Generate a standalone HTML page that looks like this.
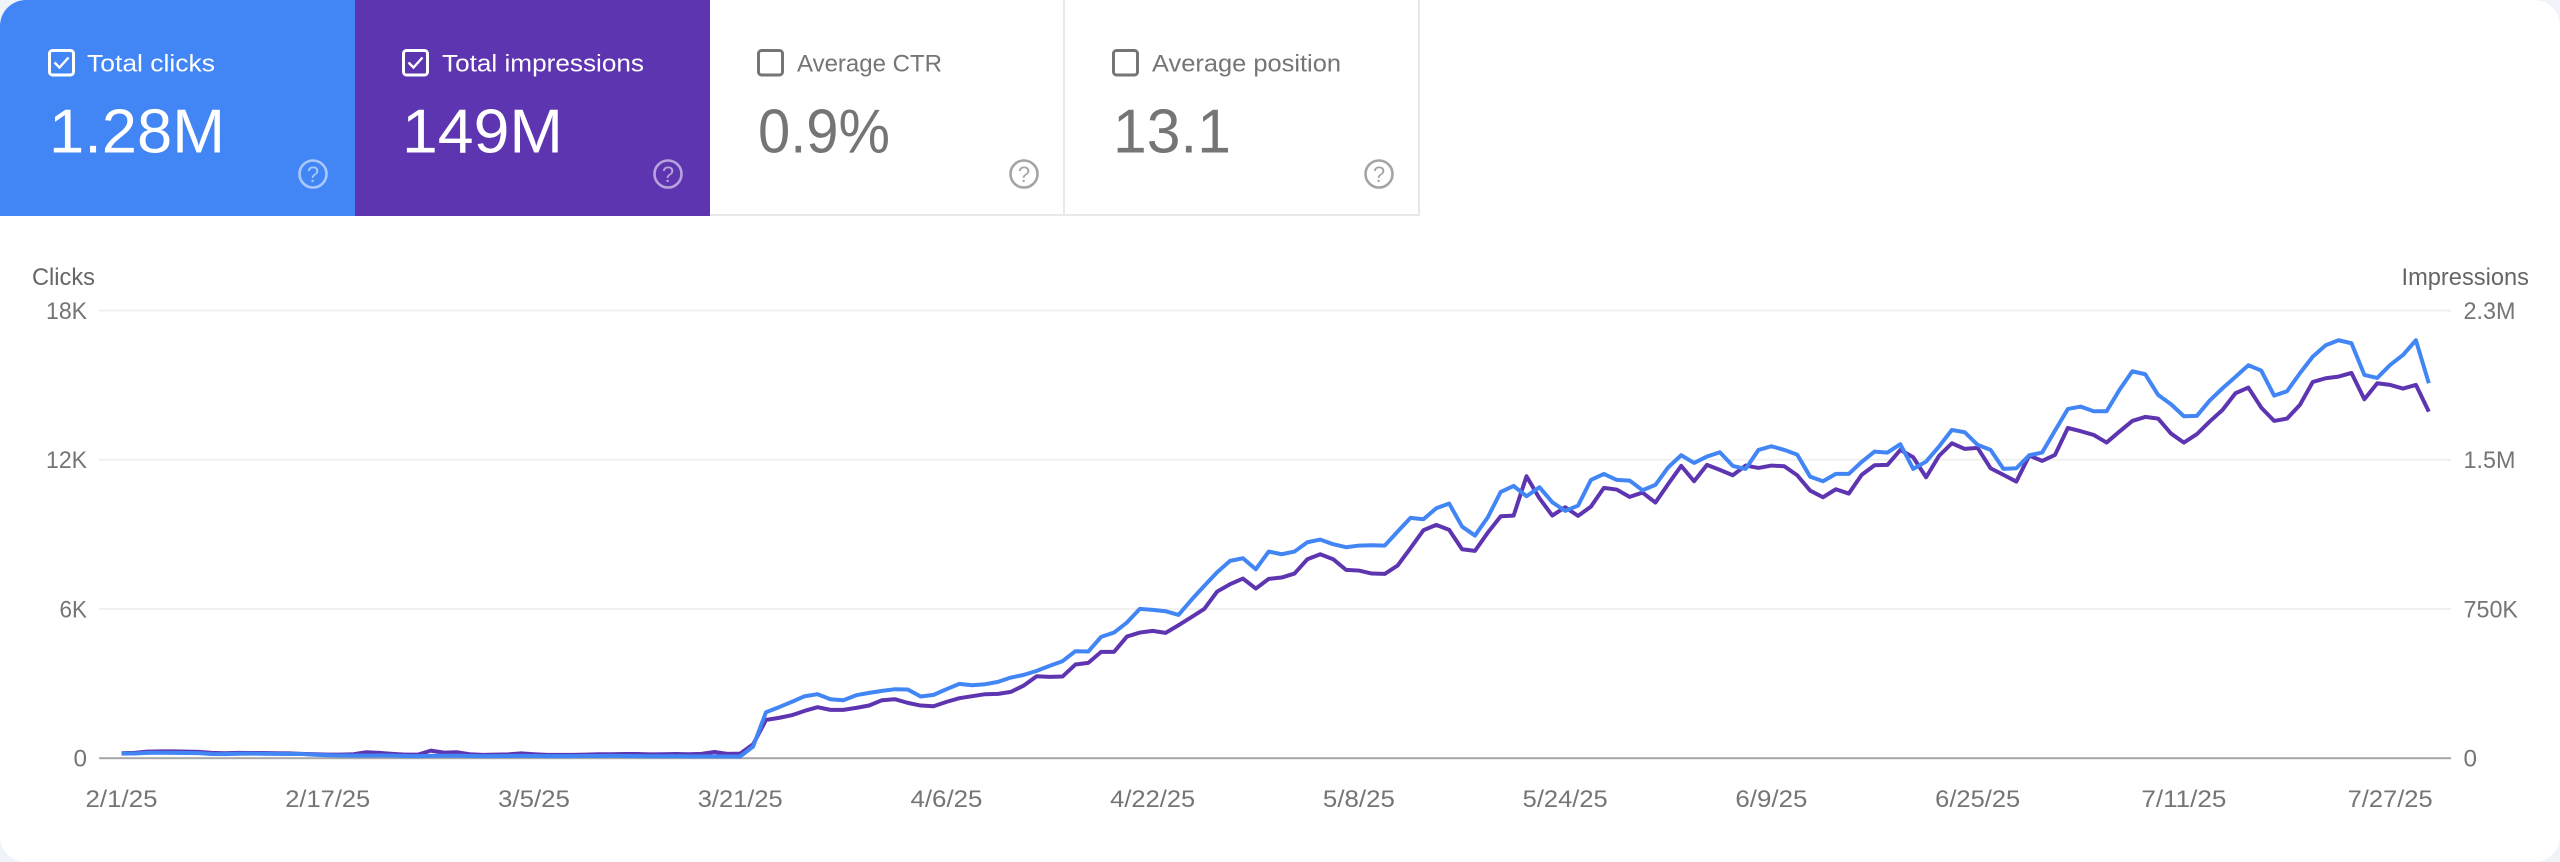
<!DOCTYPE html>
<html lang="en">
<head>
<meta charset="utf-8">
<title>Search performance chart</title>
<style>
html,body{margin:0;padding:0;background:#f0f4f9;width:2560px;height:862px;overflow:hidden}
svg{display:block}
text{font-family:"Liberation Sans",sans-serif}
.lbl{font-size:24.5px}
.big{font-size:62px;paint-order:stroke}
.tick{font-size:24.5px;fill:#757575}
.title{font-size:24.5px;fill:#666666}
.help{font-size:22px;text-anchor:middle}
</style>
</head>
<body>
<svg id="root" width="2560" height="862" viewBox="0 0 2560 862" xmlns="http://www.w3.org/2000/svg">
  <defs><clipPath id="cardClip"><rect x="0" y="0" width="2560" height="862" rx="26" ry="26"/></clipPath></defs>
  <g clip-path="url(#cardClip)">
    <rect x="0" y="0" width="2560" height="862" fill="#ffffff"/>

    <g>
      <rect x="0" y="0" width="355" height="216" fill="#4285f4"/>
      <rect x="49.5" y="50.5" width="24" height="24.500" rx="3" fill="none" stroke="#ffffff" stroke-width="3"/>
      <path d="M54.500 62.500l5 5 9-10" fill="none" stroke="#ffffff" stroke-width="2.400"/>
      <text class="lbl" x="87" y="71.500" fill="#ffffff" textLength="128" lengthAdjust="spacingAndGlyphs">Total clicks</text>
      <text class="big" x="49" y="152.500" fill="#ffffff" stroke="#4285f4" stroke-width="1" textLength="176" lengthAdjust="spacingAndGlyphs">1.28M</text>
      <g opacity="0.55">
        <circle cx="313" cy="174" r="13.500" fill="none" stroke="#ffffff" stroke-width="2.600"/>
        <text class="help" x="313" y="182" fill="#ffffff">?</text>
      </g>
    </g>

    <g>
      <rect x="355" y="0" width="355" height="216" fill="#5e35b1"/>
      <rect x="403.500" y="50.500" width="24" height="24.500" rx="3" fill="none" stroke="#ffffff" stroke-width="3"/>
      <path d="M408.500 62.500l5 5 9-10" fill="none" stroke="#ffffff" stroke-width="2.400"/>
      <text class="lbl" x="442" y="71.500" fill="#ffffff" textLength="202" lengthAdjust="spacingAndGlyphs">Total impressions</text>
      <text class="big" x="402" y="152.500" fill="#ffffff" stroke="#5e35b1" stroke-width="1" textLength="161" lengthAdjust="spacingAndGlyphs">149M</text>
      <g opacity="0.55">
        <circle cx="668" cy="174" r="13.500" fill="none" stroke="#ffffff" stroke-width="2.600"/>
        <text class="help" x="668" y="182" fill="#ffffff">?</text>
      </g>
    </g>

    <g>
      <rect x="758.500" y="50.500" width="24" height="24.500" rx="3" fill="none" stroke="#757575" stroke-width="3"/>
      <text class="lbl" x="797" y="71.500" fill="#757575" textLength="145" lengthAdjust="spacingAndGlyphs">Average CTR</text>
      <text class="big" x="758" y="152.500" fill="#757575" stroke="#ffffff" stroke-width="1" textLength="132" lengthAdjust="spacingAndGlyphs">0.9%</text>
      <g opacity="0.65">
        <circle cx="1024" cy="174" r="13.500" fill="none" stroke="#757575" stroke-width="2.600"/>
        <text class="help" x="1024" y="182" fill="#757575">?</text>
      </g>
      <rect x="1063" y="0" width="2" height="216" fill="#e8e8e8"/>
    </g>

    <g>
      <rect x="1113.500" y="50.500" width="24" height="24.500" rx="3" fill="none" stroke="#757575" stroke-width="3"/>
      <text class="lbl" x="1152" y="71.500" fill="#757575" textLength="189" lengthAdjust="spacingAndGlyphs">Average position</text>
      <text class="big" x="1113" y="152.500" fill="#757575" stroke="#ffffff" stroke-width="1" textLength="118" lengthAdjust="spacingAndGlyphs">13.1</text>
      <g opacity="0.65">
        <circle cx="1379" cy="174" r="13.500" fill="none" stroke="#757575" stroke-width="2.600"/>
        <text class="help" x="1379" y="182" fill="#757575">?</text>
      </g>
      <rect x="1418" y="0" width="2" height="216" fill="#e8e8e8"/>
    </g>
    <rect x="710" y="214" width="710" height="2" fill="#e8e8e8"/>

    <text class="title" x="32" y="285" textLength="63" lengthAdjust="spacingAndGlyphs">Clicks</text>
    <text class="title" x="2401.500" y="285" textLength="127.500" lengthAdjust="spacingAndGlyphs">Impressions</text>
    <g id="chart"></g>
  </g>
</svg>
<script>
const clicks = [
185,190,215,220,215,210,205,170,165,180,
185,180,175,170,170,140,120,110,105,105,
110,105,90,85,95,100,105,90,85,85,
90,95,90,85,85,85,90,90,95,90,
85,80,80,80,75,75,75,70,70,470,
1849,2050,2265,2492,2573,2372,2332,2533,2626,2707,
2774,2760,2479,2546,2774,2988,2935,2975,3069,3243,
3350,3511,3712,3899,4301,4288,4878,5052,5454,6003,
5963,5909,5762,6365,6928,7477,7933,8040,7598,8308,
8200,8308,8683,8790,8603,8482,8549,8563,8549,9112,
9661,9608,10050,10238,9313,8951,9688,10707,10948,10532,
10894,10291,9943,10157,11189,11430,11189,11162,10774,10988,
11698,12181,11872,12127,12301,11752,11631,12395,12542,12395,
12207,11323,11135,11430,11430,11913,12328,12288,12623,11631,
11926,12529,13199,13105,12596,12395,11631,11658,12181,12288,
13172,14043,14137,13949,13949,14807,15557,15437,14606,14231,
13748,13762,14378,14874,15330,15799,15584,14579,14753,15477,
16147,16603,16804,16683,15410,15289,15812,16214,16804,15075
];
const impressions = [
25000,27000,33000,34000,34000,33000,32000,27000,25000,27000,
26000,26000,25000,24000,22000,20000,18000,18000,20000,30000,
27000,22000,18000,18000,38000,28000,30000,20000,17000,18000,
19000,24000,20000,17000,17000,17000,18000,20000,20000,21000,
21000,19000,20000,21000,20000,22000,31000,22000,23000,70000,
192600,202700,216000,237900,256300,242900,242900,252900,264700,291500,
296500,278000,264700,261300,283100,301500,311600,321600,323300,333300,
365200,412000,408700,410400,470700,479000,534300,534300,611400,631500,
639900,629800,668300,708500,750400,837500,874400,902800,852600,901200,
908000,928000,1000000,1025100,1000000,946400,943000,928000,926300,968200,
1055300,1145700,1172500,1147400,1050200,1041900,1134000,1216100,1219400,1417100,
1306500,1219400,1261300,1217700,1264600,1358400,1350100,1313200,1335000,1284700,
1378500,1469000,1391900,1474000,1448900,1422100,1470700,1458900,1470700,1467300,
1422100,1345000,1311500,1351700,1330000,1423800,1472300,1474000,1549400,1512500,
1412000,1519200,1582900,1554400,1559400,1457300,1423800,1390300,1520900,1494100,
1524300,1659900,1643200,1624800,1586200,1641500,1695100,1715200,1706800,1631500,
1586200,1628100,1691800,1750400,1834100,1862600,1762100,1695100,1706800,1775500,
1891100,1909500,1917900,1936300,1804000,1884400,1876000,1857600,1876000,1742000
];
const xTickLabels = ["2/1/25","2/17/25","3/5/25","3/21/25","4/6/25","4/22/25","5/8/25","5/24/25","6/9/25","6/25/25","7/11/25","7/27/25"];
const daysBetweenXTicks = 16;
const leftTickValues = [0,6000,12000,18000];
const leftTickLabels = ["0","6K","12K","18K"];
const rightTickValues = [0,750000,1500000,2250000];
const rightTickLabels = ["0","750K","1.5M","2.3M"];

const NS = "http://www.w3.org/2000/svg";
const chart = document.getElementById("chart");
const plot = {left:99, right:2451, top:310.5, bottom:758.2, firstX:121.5, dayWidth:12.89};
const leftMax = leftTickValues[leftTickValues.length-1];
const rightMax = rightTickValues[rightTickValues.length-1];
function xDay(i){ return plot.firstX + i*plot.dayWidth; }
function yClicks(v){ return plot.bottom - (v/leftMax)*(plot.bottom-plot.top); }
function yImpressions(v){ return plot.bottom - (v/rightMax)*(plot.bottom-plot.top); }
function make(tag, attrs, text){
  const el = document.createElementNS(NS, tag);
  for (const k in attrs) el.setAttribute(k, attrs[k]);
  if (text !== undefined) el.textContent = text;
  chart.appendChild(el);
  return el;
}
function labelWidth(s){
  const digits = s.replace(/[^0-9]/g,"").length;
  const dots = s.replace(/[^.]/g,"").length;
  const kays = s.replace(/[^K]/g,"").length;
  const ems = s.replace(/[^M]/g,"").length;
  return digits*13.5 + dots*6 + kays*14 + ems*19;
}

leftTickValues.forEach(function(v,i){
  const y = yClicks(v);
  const line = make("rect",{x:plot.left,y:y-1,width:plot.right-plot.left,height:2,fill:v===0?"#a6a6a6":"#f0f0f0"});
  
  
  const t = make("text",{class:"tick",x:87,y:y+8.5,"text-anchor":"end",textLength:labelWidth(leftTickLabels[i]),lengthAdjust:"spacingAndGlyphs"},leftTickLabels[i]);
  
  
});
rightTickValues.forEach(function(v,i){
  const y = yImpressions(v);
  const t = make("text",{class:"tick",x:2463.5,y:y+8.5,textLength:labelWidth(rightTickLabels[i]),lengthAdjust:"spacingAndGlyphs"},rightTickLabels[i]);
  
  
});
xTickLabels.forEach(function(s,i){
  const t = make("text",{class:"tick",x:xDay(i*daysBetweenXTicks),y:807,"text-anchor":"middle",textLength:s.length===6?72:85,lengthAdjust:"spacingAndGlyphs"},s);
  
  
});

const impressionsLine = make("polyline",{points:impressions.map(function(v,i){return xDay(i).toFixed(2)+","+yImpressions(v).toFixed(2);}).join(" "),fill:"none",stroke:"#5e35b1","stroke-width":4,"stroke-linejoin":"round"});


const clicksLine = make("polyline",{points:clicks.map(function(v,i){return xDay(i).toFixed(2)+","+yClicks(v).toFixed(2);}).join(" "),fill:"none",stroke:"#4285f4","stroke-width":4,"stroke-linejoin":"round"});


</script>
</body>
</html>
